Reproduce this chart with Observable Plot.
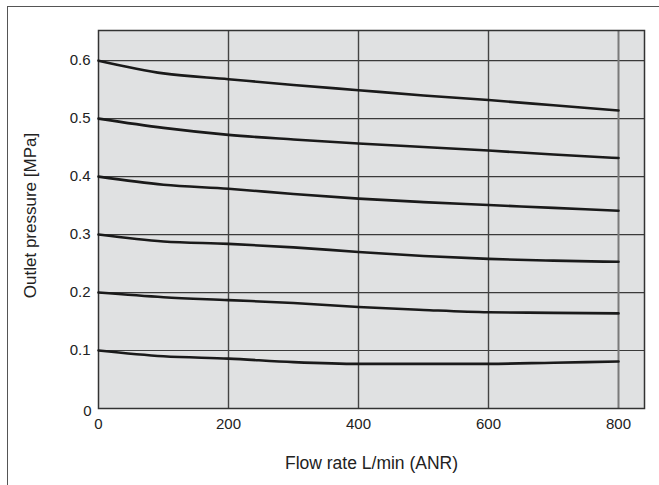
<!DOCTYPE html>
<html>
<head>
<meta charset="utf-8">
<script src="https://cdn.jsdelivr.net/npm/d3@7"></script>
<script src="https://cdn.jsdelivr.net/npm/@observablehq/plot@0.6"></script>
<style>
  html, body { margin: 0; padding: 0; background: #fff; }
  #wrap { position: relative; width: 659px; height: 485px; overflow: hidden; }
  #frame { position: absolute; left: 7px; top: 6px; width: 700px; height: 600px;
           border-left: 1.5px solid #555; border-top: 1.5px solid #555; }
  #chart { position: absolute; left: 0; top: 0; }
  svg { font-family: "Liberation Sans", Arial, sans-serif; }
</style>
</head>
<body>
<div id="wrap"><div id="frame"></div><div id="chart"></div></div>
<script>
const flow = [0, 100, 200, 300, 400, 500, 600, 700, 800];
const setPressures = [0.6, 0.5, 0.4, 0.3, 0.2, 0.1];
const p06 = [0.600, 0.578, 0.568, 0.558, 0.549, 0.540, 0.532, 0.523, 0.514];
const p05 = [0.500, 0.484, 0.472, 0.464, 0.457, 0.451, 0.445, 0.438, 0.432];
const p04 = [0.400, 0.386, 0.379, 0.370, 0.362, 0.356, 0.351, 0.346, 0.341];
const p03 = [0.300, 0.288, 0.284, 0.278, 0.270, 0.263, 0.258, 0.255, 0.253];
const p02 = [0.200, 0.192, 0.187, 0.182, 0.175, 0.170, 0.166, 0.165, 0.164];
const p01 = [0.100, 0.090, 0.086, 0.080, 0.077, 0.077, 0.077, 0.079, 0.081];
const xTicks = [0, 200, 400, 600, 800];
const yTicks = [0.1, 0.2, 0.3, 0.4, 0.5, 0.6];
const xLabel = "Flow rate L/min (ANR)";
const yLabel = "Outlet pressure [MPa]";

const seriesList = [p06, p05, p04, p03, p02, p01];
const data = [];
seriesList.forEach((arr, i) => arr.forEach((v, j) => data.push({set: setPressures[i], flow: flow[j], p: v})));

const chart = Plot.plot({
  width: 659,
  height: 485,
  marginLeft: 98,
  marginRight: 15,
  marginTop: 30,
  marginBottom: 77,
  style: {fontSize: "15px", fontFamily: "Liberation Sans, Arial, sans-serif", background: "transparent", color: "#222"},
  x: {domain: [0, 840], axis: null},
  y: {domain: [0, 0.652], axis: null},
  marks: [
    Plot.frame({fill: "#e0e1e2", stroke: null}),
    Plot.ruleY(yTicks, {stroke: "#3a3a3a", strokeWidth: 1.2}),
    Plot.ruleX(xTicks.filter(d => d > 0 && d < 800), {stroke: "#444", strokeWidth: 1.4}),
    Plot.ruleX([800], {stroke: "#7a7a7a", strokeWidth: 2}),
    Plot.frame({stroke: "#333", strokeWidth: 1.5}),
    Plot.line(data, {x: "flow", y: "p", z: "set", curve: "monotone-x", stroke: "#1a1a1a", strokeWidth: 2.6}),
    Plot.axisX(xTicks, {tickSize: 0, tickPadding: 10, fontSize: 15, fill: "#222", label: null}),
    Plot.axisY(yTicks, {tickSize: 0, tickPadding: 8, fontSize: 15, fill: "#222", label: null, tickFormat: d => String(d)}),
    Plot.text(["0"], {frameAnchor: "bottom-left", dx: -11, dy: 7, textAnchor: "middle", fontSize: 15, fill: "#222"}),
    Plot.text([xLabel], {frameAnchor: "bottom", textAnchor: "middle", dy: 60, fontSize: 17.5, fill: "#222"}),
    Plot.text([yLabel], {frameAnchor: "left", textAnchor: "middle", dx: -68, dy: -4, rotate: -90, fontSize: 17, fill: "#222"})
  ]
});
document.getElementById("chart").appendChild(chart);
</script>
</body>
</html>
